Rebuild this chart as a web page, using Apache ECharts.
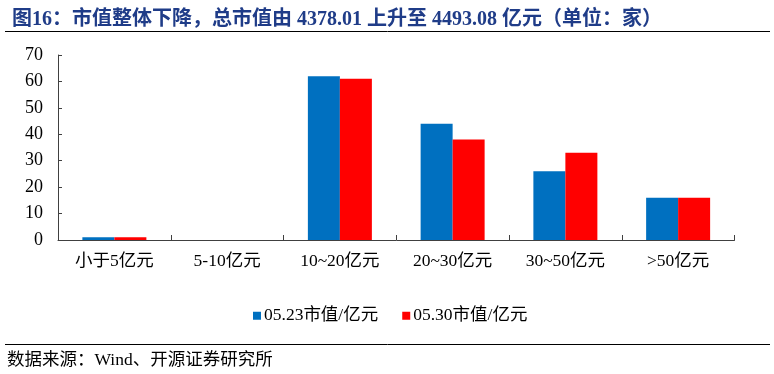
<!DOCTYPE html>
<html><head><meta charset="utf-8">
<script src="https://cdn.jsdelivr.net/npm/echarts@6/dist/echarts.min.js"></script>
<style>html,body{margin:0;padding:0;background:#fff}#c{width:774px;height:374px}</style>
</head><body><div id="c"></div>
<script>
const categories = ['小于5亿元','5-10亿元','10~20亿元','20~30亿元','30~50亿元','>50亿元'];
const seriesNames = ['05.23市值/亿元','05.30市值/亿元'];
const values0523 = [1, 0, 62, 44, 26, 16];
const values0530 = [1, 0, 61, 38, 33, 16];
const titleText = '图16：市值整体下降，总市值由 4378.01 上升至 4493.08 亿元（单位：家）';
const sourceText = '数据来源：Wind、开源证券研究所';

const serif = '"Liberation Serif","Times New Roman","Noto Sans CJK SC",serif';
const chart = echarts.init(document.getElementById('c'));
chart.setOption({
  animation: false,
  title: {
    text: titleText, left: 7, top: 5,
    textStyle: {fontFamily: serif, fontSize: 20, fontWeight: 'bold', color: '#1F3C88'}
  },
  graphic: [
    {type: 'line', shape: {x1: 5, y1: 31.5, x2: 770, y2: 31.5}, style: {stroke: '#000', lineWidth: 1}},
    {type: 'line', shape: {x1: 5, y1: 344.5, x2: 770, y2: 344.5}, style: {stroke: '#000', lineWidth: 1}},
    {type: 'text', left: 7, top: 352, style: {text: sourceText, font: '17.5px ' + serif, fill: '#000'}}
  ],
  legend: {
    data: seriesNames, top: 302, left: 248, itemWidth: 8, itemHeight: 8, itemGap: 24,
    icon: 'rect',
    textStyle: {fontFamily: serif, fontSize: 17.5, color: '#000', padding: [0, 0, 0, -2]}
  },
  grid: {left: 58, right: 39.5, top: 55, bottom: 134},
  xAxis: {
    type: 'category', data: categories,
    axisLine: {lineStyle: {color: '#404040', width: 1}},
    axisTick: {show: true, inside: true, length: 5, lineStyle: {color: '#404040'}},
    axisLabel: {fontFamily: serif, fontSize: 17.5, color: '#000', margin: 13}
  },
  yAxis: {
    type: 'value', min: 0, max: 70, interval: 10,
    splitLine: {show: false},
    axisLine: {show: true, lineStyle: {color: '#404040', width: 1}},
    axisTick: {show: true, inside: true, length: 4, lineStyle: {color: '#404040'}},
    axisLabel: {fontFamily: serif, fontSize: 18, color: '#000', margin: 15}
  },
  series: [
    {name: seriesNames[0], type: 'bar', data: values0523, barWidth: 32, barGap: '0%', itemStyle: {color: '#0070C0'}},
    {name: seriesNames[1], type: 'bar', data: values0530, barWidth: 32, barGap: '0%', itemStyle: {color: '#FF0000'}}
  ]
});
</script></body></html>
